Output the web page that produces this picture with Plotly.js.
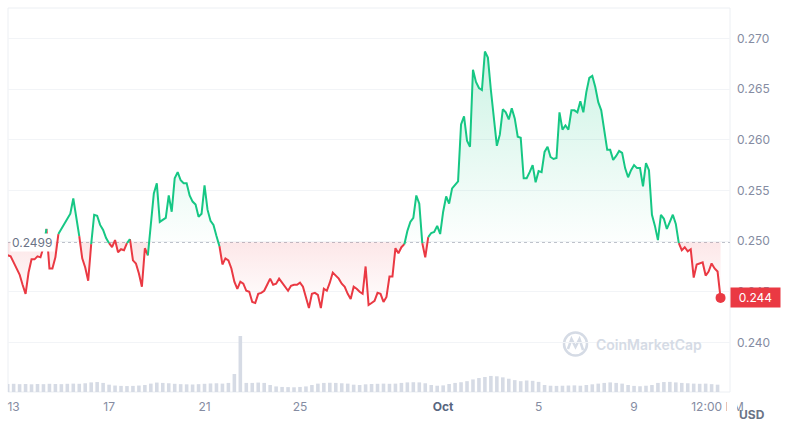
<!DOCTYPE html>
<html>
<head>
<meta charset="utf-8">
<script src="https://cdn.plot.ly/plotly-3.0.1.min.js"></script>
<style>html,body{margin:0;padding:0;background:#fff;}#chart{width:800px;height:434px;}</style>
</head>
<body>
<div id="chart"></div>
<script>
// ---- data ----
const startTime = Date.UTC(2023, 8, 12, 18, 0);   // first price sample
const priceStepHours = 3;
const prices = [
0.2486,0.2485,0.2479,0.2473,0.2467,0.2457,0.2448,0.2469,0.2482,0.2482,
0.2485,0.2484,0.2494,0.2512,0.2473,0.2473,0.2484,0.2507,0.2512,0.2517,
0.2521,0.2527,0.2542,0.2525,0.2505,0.2483,0.2474,0.2461,0.2497,0.2526,
0.2525,0.2516,0.2511,0.2503,0.2498,0.2494,0.2501,0.2489,0.2492,0.2491,
0.2498,0.2502,0.2481,0.2478,0.2468,0.2455,0.2493,0.2486,0.2516,0.2547,
0.2557,0.2519,0.2521,0.2523,0.2545,0.2529,0.2562,0.2568,0.2560,0.2557,
0.2557,0.2545,0.2539,0.2536,0.2524,0.2527,0.2555,0.2531,0.2520,0.2516,
0.2505,0.2495,0.2477,0.2483,0.2481,0.2473,0.2460,0.2453,0.2460,0.2458,
0.2451,0.2450,0.2440,0.2439,0.2448,0.2449,0.2451,0.2457,0.2463,0.2457,
0.2458,0.2463,0.2459,0.2456,0.2451,0.2456,0.2457,0.2457,0.2459,0.2455,
0.2444,0.2434,0.2448,0.2449,0.2447,0.2434,0.2453,0.2451,0.2459,0.2469,
0.2466,0.2463,0.2458,0.2455,0.2448,0.2443,0.2455,0.2453,0.2450,0.2448,
0.2475,0.2437,0.2439,0.2441,0.2449,0.2448,0.2440,0.2445,0.2465,0.2465,
0.2493,0.2488,0.2494,0.2497,0.2510,0.2519,0.2523,0.2545,0.2537,0.2498,
0.2484,0.2504,0.2508,0.2509,0.2515,0.2507,0.2529,0.2544,0.2537,0.2552,
0.2556,0.2559,0.2615,0.2623,0.2599,0.2593,0.2669,0.2657,0.2651,0.2649,
0.2687,0.2681,0.2649,0.2622,0.2594,0.2605,0.2630,0.2627,0.2620,0.2631,
0.2621,0.2603,0.2602,0.2562,0.2562,0.2568,0.2575,0.2558,0.2569,0.2568,
0.2588,0.2593,0.2583,0.2581,0.2582,0.2627,0.2610,0.2614,0.2610,0.2629,
0.2629,0.2627,0.2638,0.2627,0.2647,0.2661,0.2663,0.2652,0.2637,0.2629,
0.2610,0.2590,0.2590,0.2580,0.2584,0.2589,0.2587,0.2572,0.2563,0.2570,
0.2575,0.2572,0.2572,0.2554,0.2577,0.2570,0.2526,0.2515,0.2501,0.2526,
0.2522,0.2512,0.2519,0.2526,0.2517,0.2498,0.2491,0.2494,0.2490,0.2492,
0.2464,0.2477,0.2478,0.2479,0.2466,0.2470,0.2478,0.2473,0.2470,0.2444
];
const volStepHours = 6;
const volumes = [   // million USD per 6h
46,47,45,46,44,46,45,47,46,45,47,48,47,50,55,57,52,42,37,35,
34,35,37,40,48,54,52,50,47,45,44,43,45,47,49,50,48,52,103,321,
52,52,54,52,40,32,29,28,27,29,32,40,48,52,53,52,50,48,42,40,
44,46,47,48,47,48,52,55,56,55,50,40,36,38,46,52,56,62,72,80,
86,92,90,84,76,68,62,66,64,58,40,36,35,36,37,38,36,40,44,48,
52,55,52,48,40,35,33,36,40,52,57,58,55,52,50,48,47,48,45,42
];
const baseline = 0.2499;
const lastPriceLabel = '0.244';
const xTickVals = ['2023-09-13','2023-09-17','2023-09-21','2023-09-25','2023-10-01','2023-10-05','2023-10-09','2023-10-12 12:00'];
const xTickText = ['13','17','21','25','<span style="color:#58667e;font-weight:bold">Oct</span>','5','9','12:00 PM'];
const yTickVals = [0.240,0.245,0.250,0.255,0.260,0.265,0.270];
const yTickText = ['0.240','0.245','0.250','0.255','0.260','0.265','0.270'];

// ---- helpers ----
function iso(ms){ return new Date(ms).toISOString().slice(0,16).replace('T',' '); }
const times = prices.map((_, i) => iso(startTime + i*priceStepHours*3600e3));
const vTimes = volumes.map((_, i) => iso(startTime + i*volStepHours*3600e3));

const GREEN = '#16c784', RED = '#ea3943';

// split the line into green / red runs (colour decided per segment)
function runs(isUp){
  const xs = [], ys = [];
  let open = false;
  for (let i = 0; i < prices.length - 1; i++){
    const up = (prices[i] + prices[i+1]) / 2 >= baseline;
    if (up === isUp){
      if (!open){ xs.push(times[i]); ys.push(prices[i]); open = true; }
      xs.push(times[i+1]); ys.push(prices[i+1]);
    } else if (open){
      xs.push(null); ys.push(null); open = false;
    }
  }
  return {xs, ys};
}
const g = runs(true), r = runs(false);
const baseArr = prices.map(() => baseline);
const aboveArr = prices.map(p => Math.max(p, baseline));
const belowArr = prices.map(p => Math.min(p, baseline));

const traces = [
  {type:'bar', x:vTimes, y:volumes, yaxis:'y2', marker:{color:'#d6dbe5'},
   width: volStepHours*3600e3*0.6, hoverinfo:'skip'},
  {type:'scatter', mode:'lines', x:times, y:baseArr, line:{width:0, color:'rgba(0,0,0,0)'}, hoverinfo:'skip'},
  {type:'scatter', mode:'lines', x:times, y:aboveArr, fill:'tonexty', line:{width:0, color:'rgba(0,0,0,0)'},
   fillcolor:'rgba(22,199,132,0.12)',
   fillgradient:{type:'vertical', start:baseline, stop:0.2690,
     colorscale:[[0,'rgba(22,199,132,0.01)'],[1,'rgba(22,199,132,0.22)']]}, hoverinfo:'skip'},
  {type:'scatter', mode:'lines', x:times, y:baseArr, line:{width:0, color:'rgba(0,0,0,0)'}, hoverinfo:'skip'},
  {type:'scatter', mode:'lines', x:times, y:belowArr, fill:'tonexty', line:{width:0, color:'rgba(0,0,0,0)'},
   fillcolor:'rgba(234,57,67,0.06)',
   fillgradient:{type:'vertical', start:0.2433, stop:baseline,
     colorscale:[[0,'rgba(234,57,67,0.0)'],[1,'rgba(234,57,67,0.12)']]}, hoverinfo:'skip'},
  {type:'scatter', mode:'lines', x:r.xs, y:r.ys, line:{color:RED, width:2}, connectgaps:false, hoverinfo:'skip'},
  {type:'scatter', mode:'lines', x:g.xs, y:g.ys, line:{color:GREEN, width:2}, connectgaps:false, hoverinfo:'skip'},
  {type:'scatter', mode:'markers', x:[times[times.length-1]], y:[prices[prices.length-1]],
   marker:{color:RED, size:10}, hoverinfo:'skip'}
];

const W = 722, H = 384; // plot area size in px, for decoration placement
function px(x){ return (x-8)/W; }
function py(y){ return (392-y)/H; }

const layout = {
  width:800, height:434,
  margin:{l:8, r:70, t:8, b:42},
  paper_bgcolor:'#ffffff', plot_bgcolor:'#ffffff',
  showlegend:false,
  font:{family:'Inter, "Noto Sans", sans-serif', size:12, color:'#858ca2'},
  xaxis:{type:'date', range:['2023-09-12 18:20','2023-10-13 00:30'],
    tickvals:xTickVals, ticktext:xTickText, showgrid:false, zeroline:false, showline:false,
    ticks:'', ticklabelstandoff:6, tickfont:{size:12, color:'#858ca2'}, automargin:false, fixedrange:true},
  yaxis:{side:'right', range:[0.23512, 0.27299], tickvals:yTickVals, ticktext:yTickText,
    showgrid:true, gridcolor:'#f2f4f7', gridwidth:1, zeroline:false, showline:false, ticks:'',
    ticklabelstandoff:6, tickfont:{size:12, color:'#858ca2'}, automargin:false, fixedrange:true},
  yaxis2:{overlaying:'y', range:[0, 2200], visible:false, fixedrange:true},
  bargap:0.3,
  shapes:[
    {type:'rect', xref:'paper', yref:'paper', x0:0, x1:1, y0:0, y1:1, line:{color:'#eceff3', width:1}, layer:'below'},
    {type:'line', xref:'paper', yref:'y', x0:0, x1:1, y0:baseline, y1:baseline,
     line:{color:'#a9afbb', width:1.2, dash:'dot'}, layer:'below'},
    {type:'circle', xref:'paper', yref:'paper', x0:px(564), x1:px(587), y0:py(355.5), y1:py(332.5),
     line:{color:'#d5dbe5', width:2.5}, layer:'below'},
    {type:'path', xref:'paper', yref:'paper',
     path:`M ${px(568)},${py(349)} L ${px(571.5)},${py(339)} L ${px(575.5)},${py(347)} L ${px(579.5)},${py(339)} L ${px(583)},${py(350)}`,
     line:{color:'#d5dbe5', width:2.5}, layer:'below'},
    {type:'rect', xref:'paper', yref:'paper', x0:px(727), x1:px(737), y0:py(420), y1:py(398),
     fillcolor:'#ffffff', line:{width:0}, layer:'above'}
  ],
  annotations:[
    {xref:'paper', yref:'y', x:0, y:baseline, xanchor:'left', yanchor:'middle', xshift:2,
     text:'0.2499', showarrow:false, bgcolor:'#ffffff', borderpad:1,
     font:{size:12, color:'#6b7386'}},
    {xref:'paper', yref:'y', x:1, y:prices[prices.length-1], xanchor:'left', yanchor:'middle',
     text:lastPriceLabel, showarrow:false, bgcolor:RED, width:45, height:15, borderpad:2,
     font:{size:12, color:'#ffffff'}},
    {xref:'paper', yref:'paper', x:1, y:0, xanchor:'left', yanchor:'middle', xshift:7, yshift:-22,
     text:'<b>USD</b>', showarrow:false, font:{size:12, color:'#6b7386'}},
    {xref:'paper', yref:'paper', x:px(594), y:py(344), xanchor:'left', yanchor:'middle',
     text:'CoinMarketCap', showarrow:false, font:{size:14, weight:600, color:'#d5dbe5'}}
  ]
};

Plotly.newPlot('chart', traces, layout, {displayModeBar:false, staticPlot:true});
</script>
</body>
</html>
